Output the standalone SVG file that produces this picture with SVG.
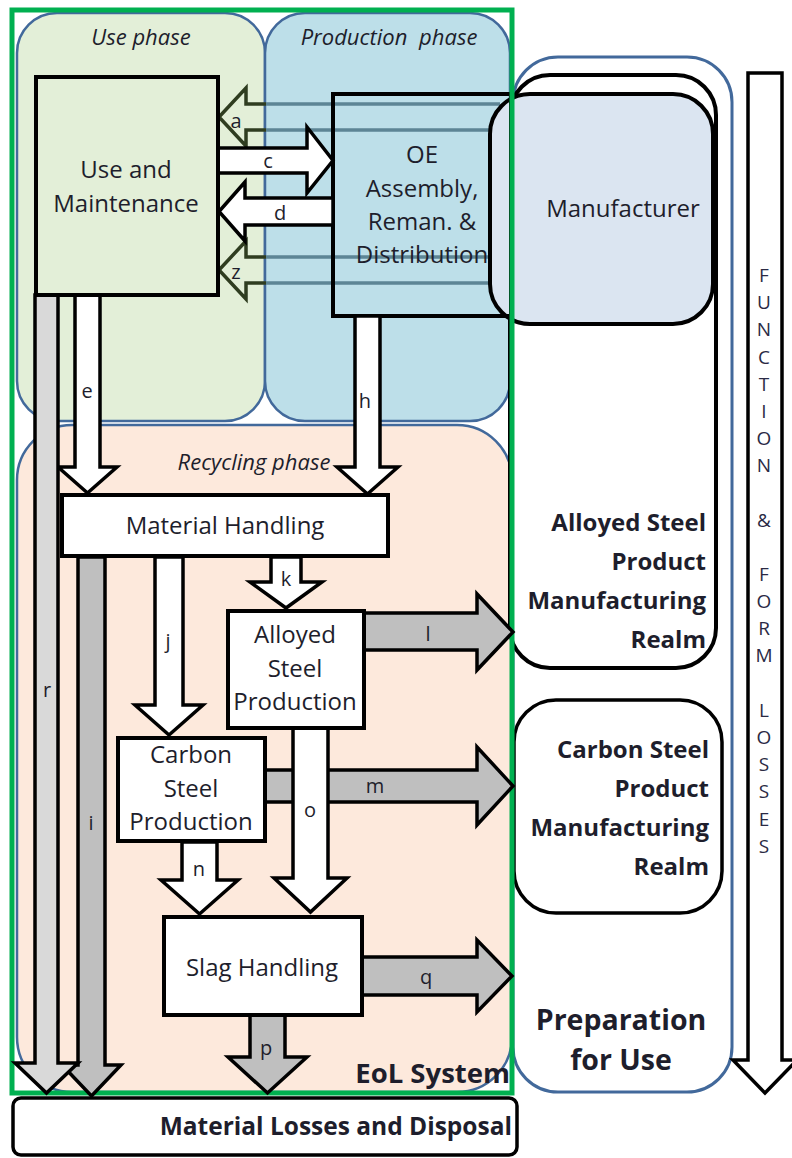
<svg xmlns="http://www.w3.org/2000/svg" width="792" height="1158" viewBox="0 0 792 1158">
  <style>
    text { font-family: 'Open Sans', 'Liberation Sans', sans-serif; fill: #1e1e2c; }
    .c { text-anchor: middle; }
    .r { text-anchor: end; }
    .bx { font-size: 24px; }
    .lb { font-size: 20px; text-anchor: middle; }
    .ph { font-size: 22px; font-style: italic; text-anchor: middle; }
    .bd { font-weight: bold; }
    .vt { font-size: 19px; text-anchor: middle; fill: #2a2a44; }
    .phase { stroke: #42699b; stroke-width: 2.5; }
    .node { stroke: #000; stroke-width: 4; }
    .arw { stroke: #000; stroke-width: 3.5; stroke-linejoin: miter; }
    .white { fill: #fff; }
    .lgrey { fill: #d9d9d9; }
    .grey { fill: #bfbfbf; }
    .hollow { fill: none; stroke-width: 3.5; stroke-linejoin: miter; }
  </style>

  <rect width="792" height="1158" fill="#fff"/>

  <!-- phase areas -->
  <g id="recycling-phase">
    <rect class="phase" x="17" y="425" width="495" height="667" rx="55" fill="#fde9dc"/>
    <text class="ph" x="254" y="470" font-size="23">Recycling phase</text>
  </g>
  <g id="use-phase">
    <rect class="phase" x="17" y="13" width="248" height="408" rx="40" fill="#e3efd8"/>
    <text class="ph" x="141" y="45">Use phase</text>
  </g>
  <g id="production-phase">
    <rect class="phase" x="265" y="13" width="245" height="408" rx="40" fill="#bddfe9"/>
    <text class="ph" x="389" y="45" word-spacing="6">Production phase</text>
  </g>

  <!-- right-hand realms -->
  <g id="preparation-for-use">
    <rect x="513" y="57" width="219" height="1035" rx="45" fill="#fff" stroke="#42699b" stroke-width="3"/>
    <text class="bd c" x="621" y="1030" font-size="28.5">Preparation</text>
    <text class="bd c" x="621" y="1070" font-size="28.5">for Use</text>
  </g>
  <g id="alloyed-realm">
    <rect class="node" x="510" y="75" width="206" height="593" rx="40" fill="#fff"/>
    <text class="bx bd r" x="706" y="531">Alloyed Steel</text>
    <text class="bx bd r" x="706" y="570">Product</text>
    <text class="bx bd r" x="706" y="609">Manufacturing</text>
    <text class="bx bd r" x="706" y="648">Realm</text>
  </g>
  <g id="carbon-realm">
    <rect x="514" y="700" width="208" height="213" rx="42" fill="#fff" stroke="#000" stroke-width="3.5"/>
    <text class="bx bd r" x="709" y="758">Carbon Steel</text>
    <text class="bx bd r" x="709" y="797">Product</text>
    <text class="bx bd r" x="709" y="836">Manufacturing</text>
    <text class="bx bd r" x="709" y="875">Realm</text>
  </g>

  <!-- hollow return flows a and z -->
  <g id="return-flows">
    <g stroke="#5d8595" stroke-width="3.5">
      <line x1="264" y1="104" x2="500" y2="104"/>
      <line x1="264" y1="130" x2="500" y2="130"/>
      <line x1="264" y1="257" x2="500" y2="257"/>
      <line x1="264" y1="283" x2="500" y2="283"/>
    </g>
    <g stroke="#2f3d20" class="hollow">
      <polyline points="266,104 246,104 246,88 219,117 246,146 246,130 266,130"/>
      <polyline points="266,257 246,257 246,241 219,270 246,299 246,283 266,283"/>
    </g>
  </g>

  <g id="manufacturer">
    <rect class="node" x="490" y="94" width="223" height="230" rx="40" fill="#dbe5f1"/>
    <text class="bx c" x="623" y="217">Manufacturer</text>
  </g>

  <g id="oe-assembly">
    <rect class="node" x="333" y="94" width="178" height="222" fill="none"/>
    <text class="bx c" x="422" y="163">OE</text>
    <text class="bx c" x="422" y="197">Assembly,</text>
    <text class="bx c" x="422" y="230">Reman. &amp;</text>
    <text class="bx c" x="422" y="263">Distribution</text>
  </g>

  <!-- EoL system boundary -->
  <g id="eol-system">
    <rect x="12" y="10" width="500" height="1083" fill="none" stroke="#00b050" stroke-width="5"/>
    <text class="bd r" x="510" y="1083" font-size="27.5">EoL System</text>
  </g>

  <!-- flows -->
  <g id="connectors">
    <polygon class="arw white" points="218,148 307,148 307,127 333,160.5 307,193 307,173 218,173"/>
    <polygon class="arw white" points="333,198 245,198 245,182 219,211.5 245,241 245,225 333,225"/>
    <polygon class="arw white" points="75,295 100,295 100,467 117,467 87.5,493 58,467 75,467"/>
    <polygon class="arw white" points="355,316 380,316 380,467 398,467 367.5,494 337,467 355,467"/>
    <polygon class="arw grey" points="78,557 105,557 105,1065 121,1065 91.5,1096 62,1065 78,1065"/>
    <polygon class="arw lgrey" points="35,295 58,295 58,1063 78,1063 46.5,1093 15,1063 35,1063"/>
    <polygon class="arw white" points="155,557 183,557 183,705 203,705 169,735 135,705 155,705"/>
    <polygon class="arw white" points="271,557 301,557 301,582 322,582 286,608 250,582 271,582"/>
    <polygon class="arw grey" points="364,613 477,613 477,594 513,632 477,670 477,650 364,650"/>
    <polygon class="arw grey" points="265,770 477,770 477,747 513,786 477,825 477,802 265,802"/>
    <polygon class="arw white" points="293,728 328,728 328,878 347,878 310.5,912 274,878 293,878"/>
    <polygon class="arw white" points="182,842 217,842 217,880 238,880 199.5,914 161,880 182,880"/>
    <polygon class="arw grey" points="362,957 477,957 477,940 512,976 477,1012 477,995 362,995"/>
    <polygon class="arw grey" points="250,1015 285,1015 285,1057 307,1057 267.5,1093 228,1057 250,1057"/>

    <text class="lb" x="236" y="128">a</text>
    <text class="lb" x="268" y="168">c</text>
    <text class="lb" x="280" y="220">d</text>
    <text class="lb" x="236" y="279">z</text>
    <text class="lb" x="87" y="398">e</text>
    <text class="lb" x="365" y="408">h</text>
    <text class="lb" x="47" y="697">r</text>
    <text class="lb" x="91" y="830">i</text>
    <text class="lb" x="168" y="648">j</text>
    <text class="lb" x="286" y="586">k</text>
    <text class="lb" x="428" y="641">l</text>
    <text class="lb" x="375" y="793">m</text>
    <text class="lb" x="310" y="817">o</text>
    <text class="lb" x="199" y="876">n</text>
    <text class="lb" x="426" y="984">q</text>
    <text class="lb" x="266" y="1055">p</text>
  </g>

  <!-- process nodes -->
  <g id="use-maintenance">
    <rect class="node" x="36" y="77" width="182" height="218" fill="#e3efd8"/>
    <text class="bx c" x="126" y="178">Use and</text>
    <text class="bx c" x="126" y="212">Maintenance</text>
  </g>
  <g id="material-handling">
    <rect class="node" x="62" y="495" width="326" height="61" fill="#fff"/>
    <text class="bx c" x="225" y="534">Material Handling</text>
  </g>
  <g id="alloyed-steel-production">
    <rect class="node" x="228" y="611" width="136" height="117" fill="#fff"/>
    <text class="bx c" x="295" y="643">Alloyed</text>
    <text class="bx c" x="295" y="677">Steel</text>
    <text class="bx c" x="295" y="710">Production</text>
  </g>
  <g id="carbon-steel-production">
    <rect class="node" x="118" y="738" width="147" height="103" fill="#fff"/>
    <text class="bx c" x="191" y="763">Carbon</text>
    <text class="bx c" x="191" y="797">Steel</text>
    <text class="bx c" x="191" y="830">Production</text>
  </g>
  <g id="slag-handling">
    <rect class="node" x="164" y="917" width="198" height="98" fill="#fff"/>
    <text class="bx c" x="262" y="976">Slag Handling</text>
  </g>

  <g id="material-losses">
    <rect x="13" y="1098" width="504" height="57" rx="8" fill="#fff" stroke="#000" stroke-width="3.5"/>
    <text class="bd r" x="512" y="1135" font-size="24.5">Material Losses and Disposal</text>
  </g>

  <!-- function and form losses -->
  <g id="function-form-losses">
    <polygon class="arw white" points="748,73 782,73 782,1060 797,1060 765,1093 733,1060 748,1060"/>
    <text class="vt" x="764" y="282">F</text>
    <text class="vt" x="764" y="309">U</text>
    <text class="vt" x="764" y="336">N</text>
    <text class="vt" x="764" y="364">C</text>
    <text class="vt" x="764" y="391">T</text>
    <text class="vt" x="764" y="418">I</text>
    <text class="vt" x="764" y="445">O</text>
    <text class="vt" x="764" y="472">N</text>
    <text class="vt" x="764" y="527">&amp;</text>
    <text class="vt" x="764" y="581">F</text>
    <text class="vt" x="764" y="608">O</text>
    <text class="vt" x="764" y="635">R</text>
    <text class="vt" x="764" y="662">M</text>
    <text class="vt" x="764" y="717">L</text>
    <text class="vt" x="764" y="744">O</text>
    <text class="vt" x="764" y="771">S</text>
    <text class="vt" x="764" y="798">S</text>
    <text class="vt" x="764" y="826">E</text>
    <text class="vt" x="764" y="853">S</text>
  </g>
</svg>
